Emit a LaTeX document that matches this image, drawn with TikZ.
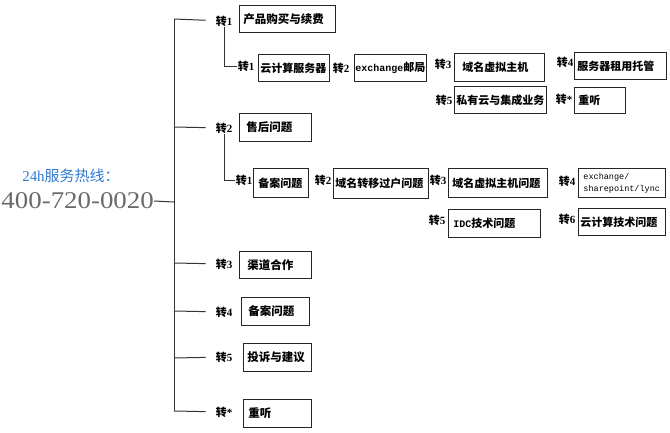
\documentclass[tikz,border=0pt]{standalone}
\usepackage{fontspec}
\setmainfont{Liberation Serif}
\newfontfamily\cjk{Noto Sans CJK SC}
\newfontfamily\mono{Liberation Mono}
\newfontfamily\phonefont[FakeStretch=1.12]{Liberation Serif}
\definecolor{hotblue}{HTML}{2F7BCF}
\definecolor{phonegray}{HTML}{6A6A6A}
\definecolor{linegray}{HTML}{333333}
\tikzset{
  box/.style={draw=black!85, line width=0.9pt, anchor=north west, align=left,
              inner ysep=0pt, font=\cjk\bfseries\fontsize{11}{13}\selectfont},
  topbox/.style={box, font=\cjk\bfseries\fontsize{11.5}{13}\selectfont},
  lab/.style={inner sep=1pt, font=\bfseries\fontsize{11}{13}\selectfont},
  conn/.style={draw=linegray, line width=1pt},
}
\newcommand\zh[1]{{\cjk #1}}
\begin{document}
\begin{tikzpicture}[x=1pt,y=-1pt]
\useasboundingbox (0,0) rectangle (670,432);

% hotline
\node[font=\fontsize{15}{17}\selectfont, text=hotblue] (hot) at (71,176) {24h\zh{服务热线：}};
\node[font=\phonefont\fontsize{24}{26}\selectfont, text=phonegray, anchor=east, inner sep=0pt] (phone) at (154,201) {400-720-0020};

% trunk coordinates
\coordinate (tp) at (174,202);
\coordinate (t1) at (174,19);
\coordinate (t2) at (174,127);
\coordinate (t3) at (174,263);
\coordinate (t4) at (174,311);
\coordinate (t5) at (174,358);
\coordinate (t6) at (174,411);

% level-1 labels
\node[lab] (l1) at (224,21) {\zh{转}1};
\node[lab] (l2) at (224,128) {\zh{转}2};
\node[lab] (l3) at (224,264) {\zh{转}3};
\node[lab] (l4) at (224,312) {\zh{转}4};
\node[lab] (l5) at (224,357) {\zh{转}5};
\node[lab] (l6) at (224,412) {\zh{转}*};

% level-1 boxes
\node[topbox, minimum height=27, text width=88, inner xsep=4] (b1) at (239,5) {产品购买与续费};
\node[topbox, minimum height=28, text width=58, inner xsep=7] (b2) at (239,113) {售后问题};
\node[topbox, minimum height=27, text width=56, inner xsep=8] (b3) at (239,251) {渠道合作};
\node[topbox, minimum height=28, text width=54, inner xsep=7] (b4) at (241,297) {备案问题};
\node[topbox, minimum height=28, text width=60, inner xsep=4] (b5) at (243,343) {投诉与建议};
\node[topbox, minimum height=28, text width=58, inner xsep=5] (b6) at (243,399) {重听};

% sub-level of 1
\node[lab] (l11) at (246,66) {\zh{转}1};
\node[box, minimum height=27, text width=67, inner xsep=2] (b11) at (258,54) {云计算服务器};
\node[lab] (l12) at (341,68) {\zh{转}2};
\node[box, minimum height=27, text width=70, inner xsep=1] (b12) at (354,54) {{\mono\fontsize{10}{12}\selectfont exchange}邮局};
\node[lab] (l13) at (443,64) {\zh{转}3};
\node[box, minimum height=28, text width=74, inner xsep=8] (b13) at (454,53) {域名虚拟主机};
\node[lab] (l14) at (565,62) {\zh{转}4};
\node[box, minimum height=27, text width=86, inner xsep=3] (b14) at (574,52) {服务器租用托管};
\node[lab] (l15) at (444,100) {\zh{转}5};
\node[box, minimum height=27, text width=88, inner xsep=2] (b15) at (454,86) {私有云与集成业务};
\node[lab] (l16) at (564,99) {\zh{转}*};
\node[box, minimum height=26, text width=43, inner xsep=4] (b16) at (574,87) {重听};

% sub-level of 2
\node[lab] (l21) at (244,180) {\zh{转}1};
\node[box, minimum height=29, text width=45, inner xsep=5] (b21) at (253,168) {备案问题};
\node[lab] (l22) at (323,180) {\zh{转}2};
\node[box, minimum height=30, text width=91, inner xsep=2] (b22) at (333,168) {域名转移过户问题};
\node[lab] (l23) at (438,180) {\zh{转}3};
\node[box, minimum height=29, text width=91, inner xsep=4] (b23) at (448,168) {域名虚拟主机问题};
\node[lab] (l24) at (567,181) {\zh{转}4};
\node[box, minimum height=29, text width=77, inner xsep=5, font=\mono\fontsize{8.5}{12}\selectfont] (b24) at (578,168) {exchange/\\sharepoint/lync};
\node[lab] (l25) at (437,220) {\zh{转}5};
\node[box, minimum height=28, text width=82, inner xsep=5] (b25) at (448,209) {{\mono\fontsize{10}{12}\selectfont IDC}技术问题};
\node[lab] (l26) at (567,219) {\zh{转}6};
\node[box, minimum height=27, text width=83, inner xsep=2] (b26) at (578,208) {云计算技术问题};

% connectors
\draw[conn] (phone.east) -- (tp);
\draw[conn] (t1) -- (t6);
\foreach \i in {1,...,6} {
  \draw[conn, shorten >=9pt] (t\i) -- (l\i);
}
\draw[conn] (l1.south) |- (l11.west);
\draw[conn] (l2.south) |- (l21.west);
\end{tikzpicture}
\end{document}
